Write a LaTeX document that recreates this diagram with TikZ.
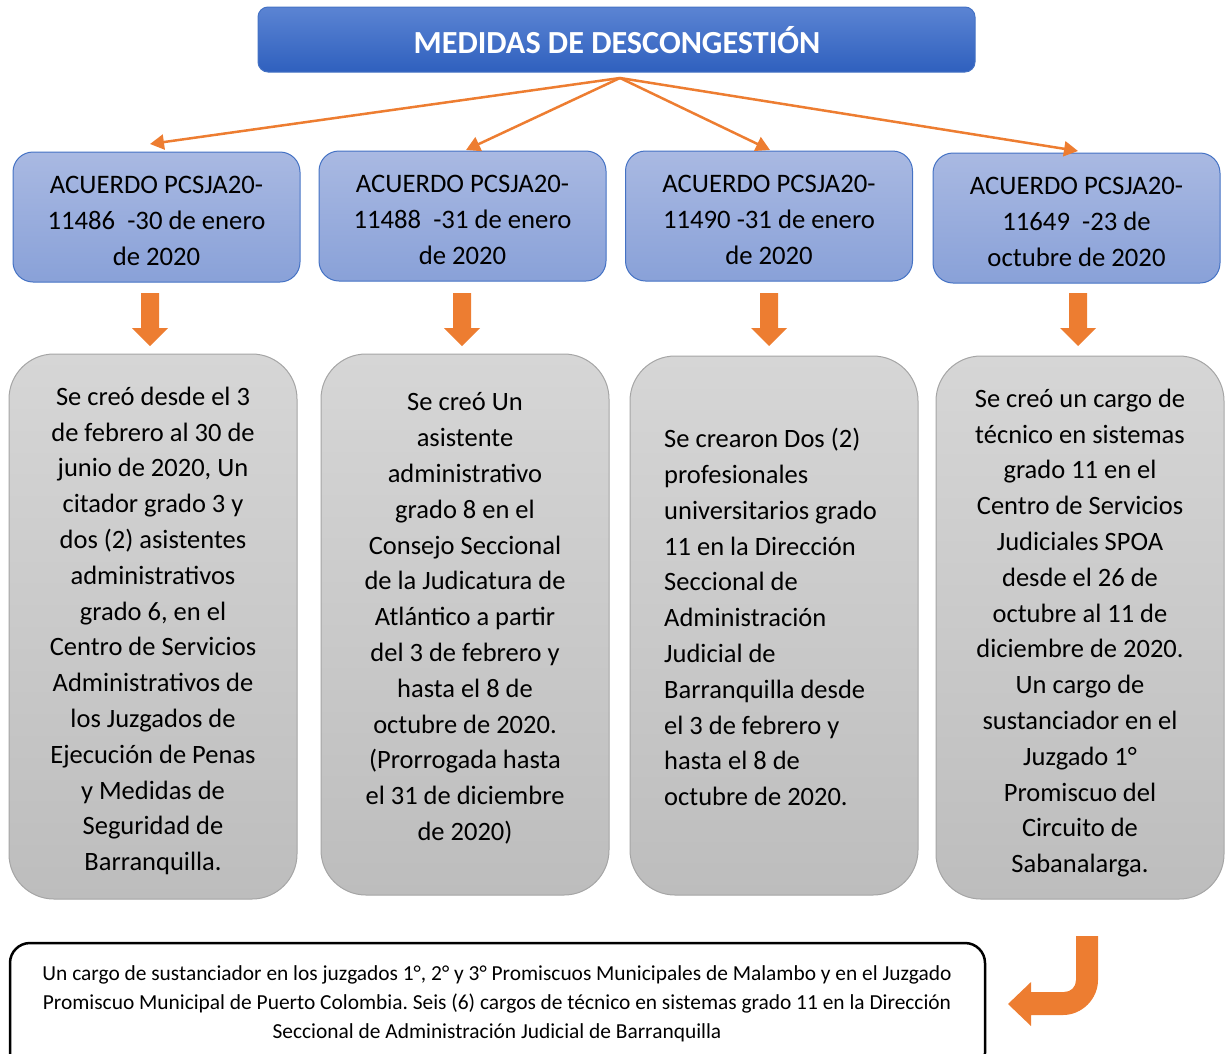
\documentclass[tikz,border=0pt]{standalone}
\usepackage{fontspec}
\setmainfont{Carlito}
\usetikzlibrary{arrows.meta}
\frenchspacing
\definecolor{orng}{HTML}{ED7D31}
\definecolor{bluebrd}{HTML}{4472C4}
\definecolor{titletop}{HTML}{5B84D3}
\definecolor{titlebot}{HTML}{2F60BE}
\definecolor{headtop}{HTML}{A9B9E2}
\definecolor{headbot}{HTML}{89A1D8}
\definecolor{greytop}{HTML}{D6D6D6}
\definecolor{greybot}{HTML}{BDBDBD}
\definecolor{greybrd}{HTML}{A5A5A5}
\begin{document}
\begin{tikzpicture}[x=1pt,y=-1pt,
  titlebox/.style={draw=bluebrd, line width=1pt, rounded corners=10pt, top color=titletop, bottom color=titlebot,
    minimum width=717pt, minimum height=65pt, inner sep=0pt},
  titletext/.style={inner sep=0pt, text=white, font=\fontsize{32.2}{36}\selectfont\bfseries},
  headbox/.style={draw=bluebrd, line width=1pt, rounded corners=20pt, top color=headtop, bottom color=headbot,
    minimum width=287pt, minimum height=130pt, inner sep=0pt},
  headtext/.style={inner sep=0pt, align=center, font=\fontsize{26.7}{36}\selectfont},
  greybox/.style={draw=greybrd, line width=1pt, rounded corners=45pt, top color=greytop, bottom color=greybot,
    minimum width=288pt, inner sep=0pt},
  greytext/.style={inner sep=0pt, align=center, font=\fontsize{26.5}{35.8}\selectfont},
  conn/.style={draw=orng, line width=2.5pt, -{Triangle[length=14pt,width=15pt]}},
  blockarrow/.style={fill=orng, draw=none},
  notebox/.style={draw=black, line width=2.5pt, rounded corners=20pt, fill=white,
    minimum width=975pt, minimum height=130pt, inner sep=0pt},
  notetext/.style={inner sep=0pt, align=center, font=\fontsize{21.4}{29}\selectfont}
]
\useasboundingbox (0,0) rectangle (1225,1053);

% title
\node[titlebox] (title) at (616.5,39.5) {};
\node[titletext] (tt) at (617,40) {MEDIDAS DE DESCONGESTIÓN};

% header boxes
\node[headbox] (h1) at (156.5,217) {};
\node[headbox] (h2) at (462.5,216) {};
\node[headbox] (h3) at (769,216) {};
\node[headbox] (h4) at (1076.5,218) {};
\node[headtext] (ht1) at (156.5,220.5) {ACUERDO PCSJA20-\\11486~~-30 de enero\\de 2020};
\node[headtext] (ht2) at (462.5,219.5) {ACUERDO PCSJA20-\\11488~~-31 de enero\\de 2020};
\node[headtext] (ht3) at (769,219.5) {ACUERDO PCSJA20-\\11490 -31 de enero\\de 2020};
\node[headtext] (ht4) at (1076.5,221.5) {ACUERDO PCSJA20-\\11649~~-23 de\\octubre de 2020};

% connectors from title
\coordinate (o) at (620,78);
\coordinate (e1) at (150,144);
\coordinate (e2) at (466,150);
\coordinate (e3) at (770,150);
\coordinate (e4) at (1078,151);
\draw[conn] (o) -- (e1);
\draw[conn] (o) -- (e2);
\draw[conn] (o) -- (e3);
\draw[conn] (o) -- (e4);

% block arrows
\foreach \cx in {150,462,769,1078}{
  \path[blockarrow] (\cx-9,293) -- (\cx+9,293) -- (\cx+9,328) -- (\cx+18,328) -- (\cx,346) -- (\cx-18,328) -- (\cx-9,328) -- cycle;
}

% grey boxes
\node[greybox, minimum height=545pt] (g1) at (153,626.5) {};
\node[greybox, minimum height=541pt] (g2) at (465,624.5) {};
\node[greybox, minimum height=539pt] (g3) at (774,625.5) {};
\node[greybox, minimum height=543pt] (g4) at (1080,627.5) {};

\node[greytext] (t1) at (153,631) {Se creó desde el 3\\de febrero al 30 de\\junio de 2020, Un\\citador grado 3 y\\dos (2) asistentes\\administrativos\\grado 6, en el\\Centro de Servicios\\Administrativos de\\los Juzgados de\\Ejecución de Penas\\y Medidas de\\Seguridad de\\Barranquilla.};
\node[greytext] (t2) at (465,618.5) {Se creó Un\\asistente\\administrativo\\grado 8 en el\\Consejo Seccional\\de la Judicatura de\\Atlántico a partir\\del 3 de febrero y\\hasta el 8 de\\octubre de 2020.\\(Prorrogada hasta\\el 31 de diciembre\\de 2020)};
\node[greytext, align=left, anchor=west] (t3) at (664,617) {Se crearon Dos (2)\\profesionales\\universitarios grado\\11 en la Dirección\\Seccional de\\Administración\\Judicial de\\Barranquilla desde\\el 3 de febrero y\\hasta el 8 de\\octubre de 2020.};
\node[greytext] (t4) at (1080,633) {Se creó un cargo de\\técnico en sistemas\\grado 11 en el\\Centro de Servicios\\Judiciales SPOA\\desde el 26 de\\octubre al 11 de\\diciembre de 2020.\\Un cargo de\\sustanciador en el\\Juzgado 1°\\Promiscuo del\\Circuito de\\Sabanalarga.};

% bottom note
\node[notebox] (note) at (497.5,1008) {};
\node[notetext] (nt) at (497,1003.5) {Un cargo de sustanciador en los juzgados 1°, 2° y 3° Promiscuos Municipales de Malambo y en el Juzgado\\Promiscuo Municipal de Puerto Colombia. Seis (6) cargos de técnico en sistemas grado 11 en la Dirección\\Seccional de Administración Judicial de Barranquilla};

% U-turn arrow
\path[blockarrow] (1076,936) -- (1098,936) -- (1098,980)
  .. controls (1098,999) and (1082,1015) .. (1063,1015)
  -- (1031,1015) -- (1031,1026) -- (1008,1004) -- (1031,982) -- (1031,992) -- (1064,992)
  .. controls (1071,992) and (1076,987) .. (1076,980) -- cycle;
\end{tikzpicture}
\end{document}
